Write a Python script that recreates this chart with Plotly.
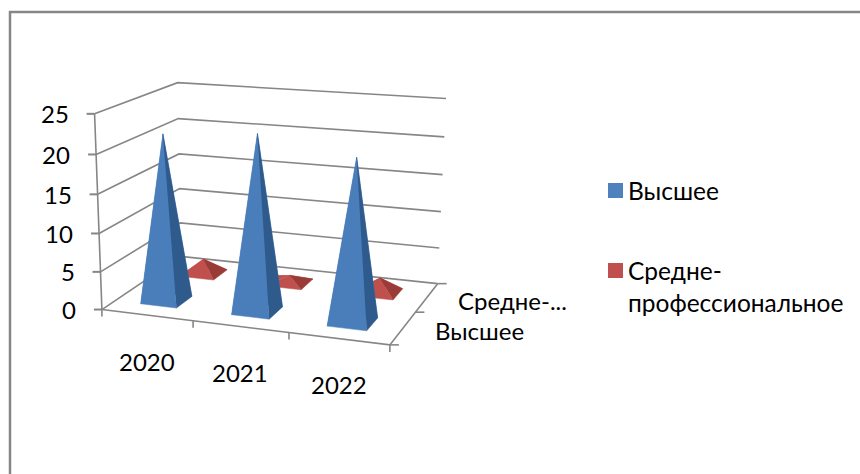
import numpy as np
import plotly.graph_objects as go

# ---- data ----
categories = ["2020", "2021", "2022"]
series_names = ["Высшее", "Средне-<br>профессиональное"]
depth_labels = ["Высшее", "Средне-..."]
vysshee = [21.8, 22.7, 20.7]
sredne = [2, 1, 2]
value_ticks = [0, 5, 10, 15, 20, 25]

GRID = "#868686"
FONT = "Lato, 'Noto Sans', sans-serif"
W, H = 860, 474

# ---- 3D view calibration: (category pos, depth pos, value) -> page pixel ----
calib_world = np.array([
    (0, 0, 0), (3, 0, 0), (3, 2, 0), (0, 2, 0),
    (0, 0, 25), (0, 2, 25), (3, 2, 25),
    (0, 0, 10), (0, 2, 10), (3, 2, 10),
    (1, 0, 0), (2, 0, 0),
], float)
calib_page = np.array([
    (102, 308), (390, 345), (437, 283), (181, 258),
    (94, 114.5), (178, 82.5), (446, 99),
    (99.5, 232.5), (179, 188), (441.5, 211),
    (193, 322), (289, 333),
], float)


def fit_view(w, p):
    rows = []
    for (a, b, c), (x, y) in zip(w, p):
        rows.append([a, b, c, 1, 0, 0, 0, 0, -x * a, -x * b, -x * c, -x])
        rows.append([0, 0, 0, 0, a, b, c, 1, -y * a, -y * b, -y * c, -y])
    return np.linalg.svd(np.array(rows))[2][-1].reshape(3, 4)


VIEW = fit_view(calib_world, calib_page)


def proj(u, v, z):
    q = VIEW @ np.array([u, v, z, 1.0])
    return q[0] / q[2], q[1] / q[2]


fig = go.Figure()


def line(points, color=GRID, width=1.6):
    pts = [proj(*p) for p in points]
    fig.add_trace(go.Scatter(x=[p[0] for p in pts], y=[p[1] for p in pts], mode="lines",
                             line=dict(color=color, width=width), showlegend=False, hoverinfo="skip"))


def face(points, color):
    pts = [proj(*p) for p in points]
    fig.add_trace(go.Scatter(x=[p[0] for p in pts], y=[p[1] for p in pts], mode="lines", fill="toself",
                             fillcolor=color, line=dict(color=color, width=0.5),
                             showlegend=False, hoverinfo="skip"))


def pyramid(i, d, val, half, front, side, back):
    u0, v0 = i + 0.49, d + 0.5
    fl, fr = (u0 - half, v0 - half, 0), (u0 + half, v0 - half, 0)
    br, bl = (u0 + half, v0 + half, 0), (u0 - half, v0 + half, 0)
    ap = (u0, v0, val)
    face([bl, br, ap], back)
    face([bl, fl, ap], front)
    face([fl, fr, ap], front)
    face([fr, br, ap], side)


# walls
for t in value_ticks:
    line([(0, 0, t), (0, 2, t), (3, 2, t)])
# axes
line([(0, 0, 0), (0, 0, 25)])
line([(0, 0, 0), (3, 0, 0), (3, 2, 0)])

ann = []


def label(x, y, text, xanchor="center", size=24):
    ann.append(dict(x=x, y=y, text=text, showarrow=False, xanchor=xanchor, yanchor="middle",
                    xref="x", yref="y", align="left", font=dict(family=FONT, size=size, color="#000000")))


# value axis ticks and labels
for t in value_ticks:
    x, y = proj(0, 0, t)
    fig.add_trace(go.Scatter(x=[x, x - 8], y=[y, y], mode="lines", line=dict(color=GRID, width=2),
                             showlegend=False, hoverinfo="skip"))
    label(x - 24, y, str(t), "right")
# category axis ticks and labels
for i in range(4):
    x, y = proj(i, 0, 0)
    fig.add_trace(go.Scatter(x=[x, x], y=[y, y + 7], mode="lines", line=dict(color=GRID, width=1.6),
                             showlegend=False, hoverinfo="skip"))
for i, c in enumerate(categories):
    x, y = proj(i + 0.5, 0, 0)
    label(x, y + 46, c)
# depth axis ticks and labels
for d in range(3):
    x, y = proj(3, d, 0)
    fig.add_trace(go.Scatter(x=[x, x + 9], y=[y, y], mode="lines", line=dict(color=GRID, width=1.6),
                             showlegend=False, hoverinfo="skip"))
for d, s in enumerate(depth_labels):
    x, y = proj(3, d + 0.5, 0)
    label(x + 29.5, y + 3, s, "left")

# marks: rear series first
for i, v in enumerate(sredne):
    pyramid(i, 1, v, 0.2, "#c0504d", "#9a3b38", "#c0504d")
for i, v in enumerate(vysshee):
    pyramid(i, 0, v, 0.2, "#4a7ebb", "#2f5a8c", "#4a7ebb")

# legend: swatches and text side by side
for name, color, y_sw in zip(series_names, ["#4f81bd", "#c0504d"], [190.5, 270.5]):
    fig.add_trace(go.Scatter(x=[615.5], y=[y_sw], mode="markers", name=name.replace("<br>", ""),
                             showlegend=False, hoverinfo="skip",
                             marker=dict(symbol="square", size=15, color=color)))
label(626, 190, series_names[0], "left", 24.5)
label(626, 286, series_names[1], "left", 24.5)

fig.update_layout(
    width=W, height=H, margin=dict(l=0, r=0, t=0, b=0),
    paper_bgcolor="white", plot_bgcolor="white", showlegend=False,
    xaxis=dict(range=[0, W], visible=False, fixedrange=True),
    yaxis=dict(range=[H, 0], visible=False, fixedrange=True),
    annotations=ann,
    shapes=[dict(type="path", path=f"M 10 {H} L 10 12 L {W} 12", xref="x", yref="y",
                 line=dict(color=GRID, width=2.5))],
)
fig.write_html("out.html", config=dict(displayModeBar=False),
               post_script="document.body.style.margin='0';document.documentElement.style.overflow='hidden';")
